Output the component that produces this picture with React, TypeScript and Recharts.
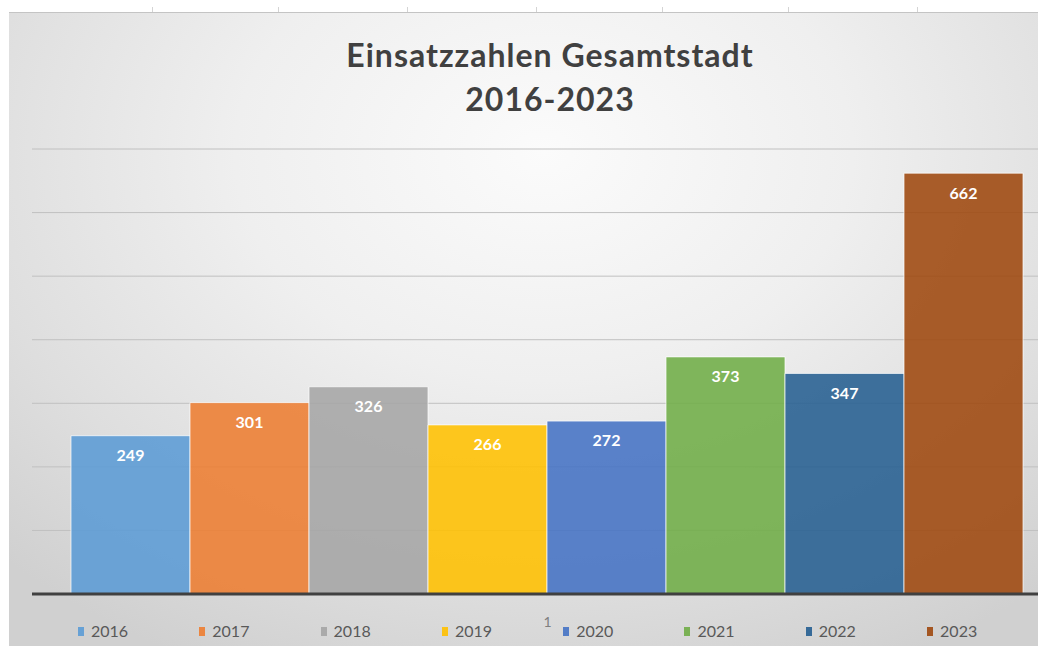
import React from 'react';
import { BarChart, Bar, XAxis, YAxis, CartesianGrid, Legend, LabelList } from 'recharts';

const categories = ['1'];
const years = ['2016', '2017', '2018', '2019', '2020', '2021', '2022', '2023'];
const values = [249, 301, 326, 266, 272, 373, 347, 662];
const colors = ['#5B9BD5', '#ED7D31', '#A5A5A5', '#FFC000', '#4472C4', '#70AD47', '#255E91', '#9E480E'];
const yTicks = [0, 100, 200, 300, 400, 500, 600, 700];
const titleLines = ['Einsatzzahlen Gesamtstadt', '2016-2023'];

const data = categories.map((c) => {
  const row: Record<string, string | number> = { name: c };
  years.forEach((y, i) => {
    row[y] = values[i];
  });
  return row;
});

const FONT = 'Lato, "Open Sans", sans-serif';

const LegendContent = (props: any) => {
  const payload = props.payload || [];
  return (
    <div style={{ position: 'relative', height: 22, width: 1100, display: 'flex', paddingLeft: 69, boxSizing: 'border-box' }}>
      {payload.map((p: any) => (
        <div key={p.value} style={{ width: 121.3, display: 'flex', alignItems: 'center', height: 14, lineHeight: '14px' }}>
          <span style={{ display: 'inline-block', width: 6, height: 9, background: p.color, opacity: 0.9, marginRight: 7 }} />
          <span style={{ fontFamily: FONT, fontSize: 16, color: '#595959' }}>{p.value}</span>
        </div>
      ))}
    </div>
  );
};

const topTicks = [152, 278, 407, 536, 662, 788, 917];

export default function App() {
  return (
    <div style={{ position: 'absolute', left: 0, top: 0, width: 1038, height: 646, background: '#ffffff', overflow: 'hidden' }}>
      {topTicks.map((x) => (
        <div key={x} style={{ position: 'absolute', left: x, top: 7, width: 1, height: 5, background: '#d4d4d4' }} />
      ))}
      <div
        style={{
          position: 'absolute',
          left: 9,
          top: 12,
          width: 1029,
          height: 634,
          overflow: 'hidden',
          borderTop: '1px solid #c4c4c4',
          boxSizing: 'border-box',
          background: 'radial-gradient(ellipse 75% 90% at 52% 22%, #fbfbfb 0%, #efefef 40%, #dedede 75%, #d0d0d0 100%)',
        }}
      >
        <div style={{ position: 'absolute', left: 0, top: 20, width: 1082, textAlign: 'center', fontFamily: FONT, fontWeight: 700, fontSize: 32, letterSpacing: 1, color: '#404040', lineHeight: '44px' }}>
          <div>{titleLines[0]}</div>
          <div>{titleLines[1]}</div>
        </div>
        <div style={{ position: 'absolute', left: 0, top: -1 }}>
          <BarChart width={1100} height={634} data={data} margin={{ top: 137, right: 46, left: 23, bottom: 0 }} barCategoryGap={39} barGap={0}>
            <CartesianGrid horizontal vertical={false} stroke="#c0c0c0" strokeWidth={1} />
            <YAxis hide domain={[0, 700]} ticks={yTicks} />
            <XAxis
              dataKey="name"
              axisLine={{ stroke: '#404040', strokeWidth: 3 }}
              tickLine={false}
              tickMargin={17}
              tick={{ fontFamily: FONT, fontSize: 14, fill: '#7f7f7f' }}
              height={30}
            />
            <Legend verticalAlign="bottom" align="left" height={22} content={<LegendContent />} wrapperStyle={{ left: 0, width: 1100, height: 22 }} />
            {years.map((y, i) => (
              <Bar key={y} dataKey={y} fill={colors[i]} fillOpacity={0.88} stroke="#ffffff" strokeOpacity={0.7} strokeWidth={1} isAnimationActive={false}>
                <LabelList dataKey={y} position="insideTop" offset={14} fill="#ffffff" style={{ fontFamily: FONT, fontWeight: 700, fontSize: 16 }} />
              </Bar>
            ))}
          </BarChart>
        </div>
      </div>
    </div>
  );
}
